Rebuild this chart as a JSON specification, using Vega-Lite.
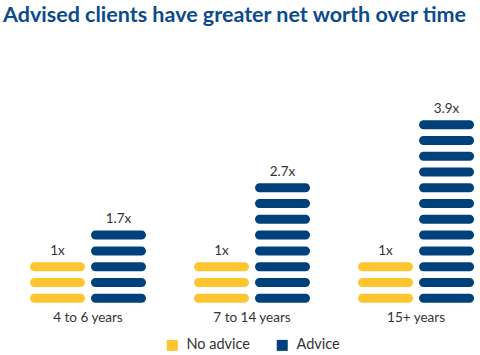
{
  "$schema": "https://vega.github.io/schema/vega-lite/v6.json",
  "width": 456,
  "height": 284,
  "autosize": "none",
  "padding": {"left": 24, "top": 30, "right": 0, "bottom": 41},
  "background": "white",
  "title": {
    "text": "Advised clients have greater net worth over time",
    "anchor": "start",
    "dx": -21,
    "offset": 4,
    "fontSize": 21.5,
    "font": "Lato",
    "fontWeight": "bold",
    "color": "#0b4a8b"
  },
  "config": {"view": {"stroke": null}, "font": "Lato"},
  "datasets": {
    "pills": [
      {"group": "4 to 6 years", "series": "No advice", "i": 1},
      {"group": "4 to 6 years", "series": "No advice", "i": 2},
      {"group": "4 to 6 years", "series": "No advice", "i": 3},
      {"group": "4 to 6 years", "series": "Advice", "i": 1},
      {"group": "4 to 6 years", "series": "Advice", "i": 2},
      {"group": "4 to 6 years", "series": "Advice", "i": 3},
      {"group": "4 to 6 years", "series": "Advice", "i": 4},
      {"group": "4 to 6 years", "series": "Advice", "i": 5},
      {"group": "7 to 14 years", "series": "No advice", "i": 1},
      {"group": "7 to 14 years", "series": "No advice", "i": 2},
      {"group": "7 to 14 years", "series": "No advice", "i": 3},
      {"group": "7 to 14 years", "series": "Advice", "i": 1},
      {"group": "7 to 14 years", "series": "Advice", "i": 2},
      {"group": "7 to 14 years", "series": "Advice", "i": 3},
      {"group": "7 to 14 years", "series": "Advice", "i": 4},
      {"group": "7 to 14 years", "series": "Advice", "i": 5},
      {"group": "7 to 14 years", "series": "Advice", "i": 6},
      {"group": "7 to 14 years", "series": "Advice", "i": 7},
      {"group": "7 to 14 years", "series": "Advice", "i": 8},
      {"group": "15+ years", "series": "No advice", "i": 1},
      {"group": "15+ years", "series": "No advice", "i": 2},
      {"group": "15+ years", "series": "No advice", "i": 3},
      {"group": "15+ years", "series": "Advice", "i": 1},
      {"group": "15+ years", "series": "Advice", "i": 2},
      {"group": "15+ years", "series": "Advice", "i": 3},
      {"group": "15+ years", "series": "Advice", "i": 4},
      {"group": "15+ years", "series": "Advice", "i": 5},
      {"group": "15+ years", "series": "Advice", "i": 6},
      {"group": "15+ years", "series": "Advice", "i": 7},
      {"group": "15+ years", "series": "Advice", "i": 8},
      {"group": "15+ years", "series": "Advice", "i": 9},
      {"group": "15+ years", "series": "Advice", "i": 10},
      {"group": "15+ years", "series": "Advice", "i": 11},
      {"group": "15+ years", "series": "Advice", "i": 12}
    ],
    "labels": [
      {"group": "4 to 6 years", "series": "No advice", "n": 3, "label": "1x"},
      {"group": "4 to 6 years", "series": "Advice", "n": 5, "label": "1.7x"},
      {"group": "7 to 14 years", "series": "No advice", "n": 3, "label": "1x"},
      {"group": "7 to 14 years", "series": "Advice", "n": 8, "label": "2.7x"},
      {"group": "15+ years", "series": "No advice", "n": 3, "label": "1x"},
      {"group": "15+ years", "series": "Advice", "n": 12, "label": "3.9x"}
    ]
  },
  "layer": [
    {
      "data": {"name": "pills"},
      "mark": {"type": "tick", "size": 55, "thickness": 9, "cornerRadius": 4.5, "opacity": 1},
      "encoding": {
        "x": {
          "field": "group", "type": "nominal", "sort": null, "title": null,
          "scale": {"paddingInner": 0.25, "paddingOuter": 0.015},
          "axis": {"domain": false, "ticks": false, "labelAngle": 0, "labelPadding": 3, "labelBaseline": "middle", "labelFontSize": 13.5, "labelColor": "#333333", "labelFont": "Lato"}
        },
        "xOffset": {
          "field": "series", "type": "nominal", "sort": ["No advice", "Advice"],
          "scale": {"paddingInner": 0, "paddingOuter": 0.008}
        },
        "y": {"field": "i", "type": "quantitative", "scale": {"domain": [0, 17]}, "axis": null},
        "color": {
          "field": "series", "type": "nominal", "sort": ["No advice", "Advice"],
          "scale": {"domain": ["No advice", "Advice"], "range": ["#fec52e", "#00417b"]},
          "legend": {"orient": "none", "legendX": 141, "legendY": 308, "direction": "horizontal", "title": null, "symbolType": "square", "symbolSize": 121, "symbolStrokeWidth": 0, "symbolOpacity": 1, "labelFontSize": 14.5, "labelColor": "#333333", "labelFont": "Lato", "columnPadding": 24, "labelOffset": 7}
        }
      }
    },
    {
      "data": {"name": "labels"},
      "mark": {"type": "text", "dy": -16, "baseline": "middle", "fontSize": 13.5, "color": "#333333", "font": "Lato"},
      "encoding": {
        "x": {"field": "group", "type": "nominal", "sort": null},
        "xOffset": {"field": "series", "type": "nominal", "sort": ["No advice", "Advice"]},
        "y": {"field": "n", "type": "quantitative"},
        "text": {"field": "label"}
      }
    }
  ]
}
